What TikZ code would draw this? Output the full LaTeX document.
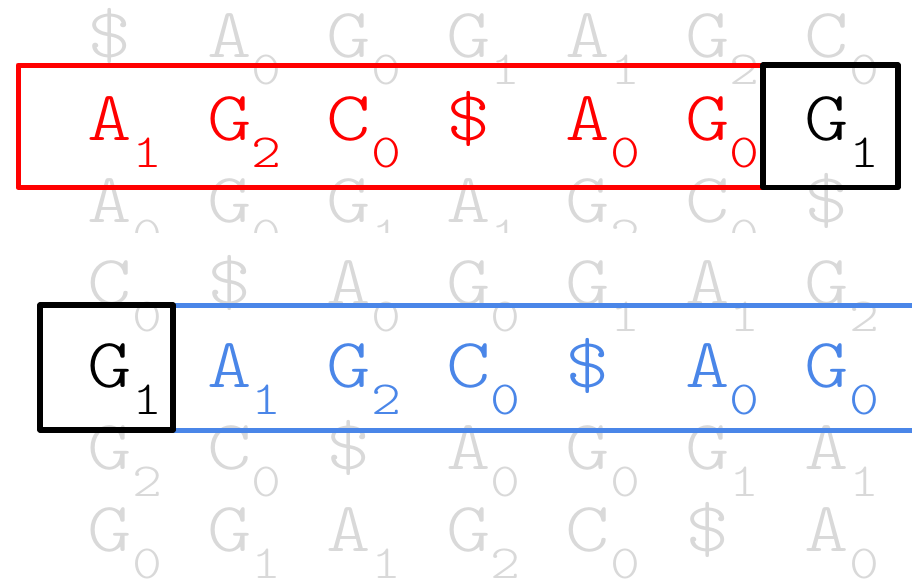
\documentclass[tikz,border=0pt]{standalone}
\usepackage{fontspec}
\newfontfamily\glyphfont[FakeStretch=1.2]{Latin Modern Mono Light}
\definecolor{faint}{HTML}{D9D9D9}
\definecolor{rowblue}{HTML}{4A86E8}
\tikzset{
  glyph/.style={inner sep=0pt, anchor=base, font=\glyphfont\fontsize{70.5}{70.5}\selectfont},
  subidx/.style={inner sep=0pt, anchor=base west, font=\glyphfont\fontsize{47.5}{47.5}\selectfont},
  redframe/.style={draw=red, line width=5pt, line join=round},
  blackframe/.style={draw=black, line width=5.5pt, line join=round},
  blueline/.style={draw=rowblue, line width=5pt}
}
% one row of indexed characters: #1 row, #2 baseline, #3 colour, #4 letter/index list, #5 first column
\newcommand\letterrow[5]{%
  \foreach \l/\s [count=\c from #5] in {#4} {
    \node[glyph, text=#3] (l#1c\c) at ({110+119.5*(\c-1)}, #2) {\l};
    \node[subidx, text=#3] (s#1c\c) at ([xshift=22pt, yshift=-27pt] l#1c\c.base) {\s};
  }%
}
\begin{document}
\begin{tikzpicture}[x=1pt, y=-1pt]
\useasboundingbox (0,0) rectangle (912,582);

% upper block of rotations, cut off below the third row
\begin{scope}
  \clip (0,0) rectangle (912,232);
  \letterrow{1}{57.7}{faint}{\$/{},A/0,G/0,G/1,A/1,G/2,C/0}{1}
  \letterrow{3}{222.3}{faint}{A/0,G/0,G/1,A/1,G/2,C/0,\$/{}}{1}
\end{scope}

% lower block of rotations
\letterrow{4}{304.6}{faint}{C/0,\$/{},A/0,G/0,G/1,A/1,G/2}{1}
\letterrow{6}{469.2}{faint}{G/2,C/0,\$/{},A/0,G/0,G/1,A/1}{1}
\letterrow{7}{551.5}{faint}{G/0,G/1,A/1,G/2,C/0,\$/{},A/0}{1}

% highlighted row ending in G1
\letterrow{2}{140}{red}{A/1,G/2,C/0,\$/{},A/0,G/0}{1}
\letterrow{2}{140}{black}{G/1}{7}
\draw[redframe] (18,65) rectangle (763,187.5);
\draw[blackframe] (763,65) rectangle (898,187.5);

% highlighted row starting with G1
\letterrow{5}{387}{black}{G/1}{1}
\letterrow{5}{387}{rowblue}{A/1,G/2,C/0,\$/{},A/0,G/0}{2}
\coordinate (bt) at (916,305);
\coordinate (bb) at (916,430);
\draw[blueline] (173,305) -- (bt);
\draw[blueline] (173,430) -- (bb);
\draw[blackframe] (40,305) rectangle (173,430);
\end{tikzpicture}
\end{document}
